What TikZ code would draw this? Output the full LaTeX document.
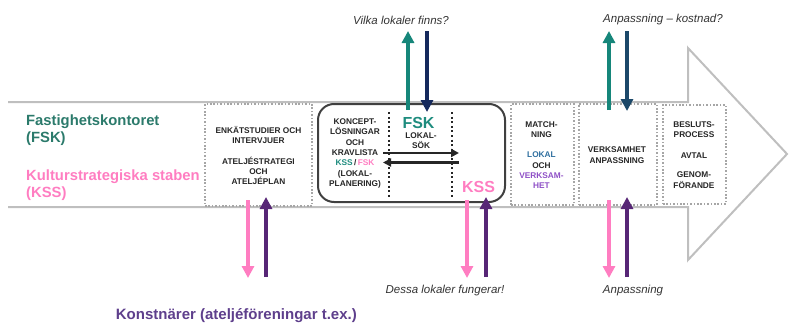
\documentclass[tikz,border=0pt]{standalone}
\usepackage{fontspec}
\setmainfont{Liberation Sans}
\usetikzlibrary{arrows.meta}
\definecolor{biggray}{HTML}{BFBFBF}
\definecolor{dotgray}{HTML}{A6A6A6}
\definecolor{boxline}{HTML}{404040}
\definecolor{txtgray}{HTML}{262626}
\definecolor{itgray}{HTML}{333333}
\definecolor{fsktxt}{HTML}{2B7A6B}
\definecolor{fskbig}{HTML}{1E8C7E}
\definecolor{tealar}{HTML}{16867A}
\definecolor{navyA}{HTML}{15295C}
\definecolor{navyB}{HTML}{1C4869}
\definecolor{pinkc}{HTML}{FF7DC1}
\definecolor{purpar}{HTML}{572676}
\definecolor{konsttxt}{HTML}{5E3F8C}
\definecolor{lokalc}{HTML}{2F6F9F}
\definecolor{verkc}{HTML}{8E4FC6}
\begin{document}
\begin{tikzpicture}[x=1pt,y=-1pt,
  bigarrow/.style={draw=biggray, line width=2pt, line join=miter},
  dotbox/.style={draw=dotgray, line width=1.6pt, dash pattern=on 1.6pt off 1.8pt, inner sep=0pt},
  roundbox/.style={draw=boxline, line width=2pt, rounded corners=16pt, inner sep=0pt},
  innerdots/.style={draw=txtgray, line width=2pt, dash pattern=on 2pt off 2.6pt},
  smalltxt/.style={font=\fontsize{8.3}{10.3}\selectfont\bfseries, text=txtgray, align=center, inner sep=0pt},
  titletxt/.style={font=\fontsize{14.8}{17}\selectfont\bfseries, align=left, inner sep=0pt, anchor=north west},
  bigtag/.style={font=\fontsize{16}{18}\selectfont\bfseries, inner sep=0pt},
  ittxt/.style={font=\fontsize{11.5}{13}\selectfont\itshape, text=itgray, inner sep=0pt},
  fatarrow/.style={line width=4pt, -{Triangle[length=12pt,width=12pt]}},
  thinarrow/.style={draw=txtgray, line width=2.4pt, -{Triangle[length=8pt,width=8pt]}}]
\useasboundingbox (0,0) rectangle (789,324);

% big background arrow
\draw[bigarrow] (8,102) -- (688,102) -- (688,48) -- (787,154) -- (688,260) -- (688,207) -- (8,207);

% left titles
\node[titletxt, text=fsktxt] (fsk) at (26,115) {Fastighetskontoret\\(FSK)};
\node[titletxt, text=pinkc] (kss) at (26,170) {Kulturstrategiska staben\\(KSS)};

% dotted boxes
\node[dotbox, minimum width=107pt, minimum height=102pt] (b1) at (258.5,155) {};
\node[smalltxt] (t1) at (258.5,155.5) {ENKÄTSTUDIER OCH\\INTERVJUER\\[10.3pt]ATELJÉSTRATEGI\\OCH\\ATELJÉPLAN};

\node[dotbox, minimum width=63pt, minimum height=101pt] (b3) at (542.5,154.5) {};
\node[smalltxt] (t3) at (541.5,155) {MATCH-\\NING\\[10.3pt]\textcolor{lokalc}{LOKAL}\\OCH\\\textcolor{verkc}{VERKSAM-}\\\textcolor{verkc}{HET}};

\node[dotbox, minimum width=78pt, minimum height=101pt] (b4) at (618,154.5) {};
\node[smalltxt] (t4) at (617,155) {VERKSAMHET\\ANPASSNING};

\node[dotbox, minimum width=63pt, minimum height=99pt] (b5) at (694.5,154.5) {};
\node[smalltxt] (t5) at (694,155) {BESLUTS-\\PROCESS\\[10.3pt]AVTAL\\[9pt]GENOM-\\FÖRANDE};

% rounded central box
\node[roundbox, minimum width=187pt, minimum height=98pt] (rb) at (411.5,153) {};
\coordinate (d1a) at (389,112); \coordinate (d1b) at (389,198);
\coordinate (d2a) at (452,112); \coordinate (d2b) at (452,198);
\draw[innerdots] (d1a) -- (d1b);
\draw[innerdots] (d2a) -- (d2b);
\node[smalltxt] (t2) at (355,153.5) {KONCEPT-\\LÖSNINGAR\\OCH\\KRAVLISTA\\\textcolor{fskbig}{KSS}\,/\,\textcolor{pinkc}{FSK}\\(LOKAL-\\PLANERING)};
\node[bigtag, text=fskbig] (fskb) at (418.5,122.5) {FSK};
\node[smalltxt] (lok) at (421,140.5) {LOKAL-\\SÖK};
\node[bigtag, text=pinkc] (kssb) at (478.5,187) {KSS};
\coordinate (h1a) at (383,153); \coordinate (h1b) at (459,153);
\coordinate (h2a) at (459,162.5); \coordinate (h2b) at (383,162.5);
\draw[thinarrow] (h1a) -- (h1b);
\draw[thinarrow] (h2a) -- (h2b);

% top arrows 1
\node[ittxt] (q1) at (401,20) {Vilka lokaler finns?};
\coordinate (u1a) at (408,110); \coordinate (u1b) at (408,31);
\coordinate (v1a) at (427,31); \coordinate (v1b) at (427,112);
\draw[fatarrow, draw=tealar, fill=tealar] (u1a) -- (u1b);
\draw[fatarrow, draw=navyA, fill=navyA] (v1a) -- (v1b);

% top arrows 2
\node[ittxt] (q2) at (663,20) {Anpassning – kostnad?};
\coordinate (u2a) at (609,110); \coordinate (u2b) at (609,31);
\coordinate (v2a) at (627,31); \coordinate (v2b) at (627,111);
\draw[fatarrow, draw=tealar, fill=tealar] (u2a) -- (u2b);
\draw[fatarrow, draw=navyB, fill=navyB] (v2a) -- (v2b);

% bottom arrows
\coordinate (p1a) at (248,200); \coordinate (p1b) at (248,278);
\coordinate (r1a) at (266,277); \coordinate (r1b) at (266,197);
\draw[fatarrow, draw=pinkc, fill=pinkc] (p1a) -- (p1b);
\draw[fatarrow, draw=purpar, fill=purpar] (r1a) -- (r1b);

\coordinate (p2a) at (467,200); \coordinate (p2b) at (467,278);
\coordinate (r2a) at (486,277); \coordinate (r2b) at (486,197);
\draw[fatarrow, draw=pinkc, fill=pinkc] (p2a) -- (p2b);
\draw[fatarrow, draw=purpar, fill=purpar] (r2a) -- (r2b);
\node[ittxt] (q3) at (445,291) {Dessa lokaler fungerar!};

\coordinate (p3a) at (609,200); \coordinate (p3b) at (609,278);
\coordinate (r3a) at (627,277); \coordinate (r3b) at (627,197);
\draw[fatarrow, draw=pinkc, fill=pinkc] (p3a) -- (p3b);
\draw[fatarrow, draw=purpar, fill=purpar] (r3a) -- (r3b);
\node[ittxt] (q4) at (633,291) {Anpassning};

\node[font=\fontsize{15}{17}\selectfont\bfseries, text=konsttxt, inner sep=0pt, anchor=base east] (konst) at (357,319) {Konstnärer (ateljéföreningar t.ex.)};
\end{tikzpicture}
\end{document}
